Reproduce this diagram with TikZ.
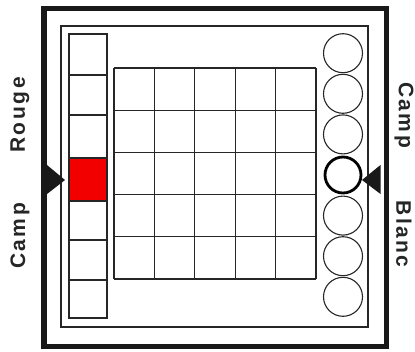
\documentclass[tikz,border=0pt]{standalone}
\usepackage{fontspec}
\setmainfont{Liberation Sans}
\newfontfamily\labfont{Liberation Sans}[LetterSpace=12]
\begin{document}
\begin{tikzpicture}[x=1pt,y=-1pt,
  frame/.style={draw=black!90,line width=5.5pt},
  thinline/.style={draw=black!85,line width=1.2pt},
  pegcircle/.style={draw=black!85,line width=1.1pt},
  pegthick/.style={draw=black,line width=2.8pt},
  marker/.style={fill=black!90},
  camplabel/.style={font=\labfont\bfseries\fontsize{21}{21}\selectfont,text=black!85,inner sep=0pt}]
\useasboundingbox (0,0) rectangle (415,351);
\fill[white] (0,0) rectangle (415,351);
% frames
\draw[frame] (44,8.5) rectangle (386.5,346.5);
\draw[thinline] (61,26) rectangle (368,327);
% left column
\fill[red!95!black] (69,158) rectangle (107,201);
\draw[thinline] (69,34) rectangle (107,318);
\foreach \yy in {75,115,158,201,240,280} \draw[thinline] (69,\yy) -- (107,\yy);
% grid
\foreach \xx in {114,154.4,194.8,235.2,275.6,316} \draw[thinline] (\xx,68) -- (\xx,279);
\foreach \yy in {68,110.2,152.4,194.6,236.8,279} \draw[thinline] (114,\yy) -- (316,\yy);
% circles
\foreach \i in {0,1,2,4,5,6} \draw[pegcircle] (343,53.2+40.6*\i) circle (19.5pt);
\draw[pegthick] (343,175) circle (18pt);
% markers
\fill[marker] (47,165) -- (65,180) -- (47,194) -- cycle;
\fill[marker] (380.5,165) -- (362,180) -- (380.5,194) -- cycle;
% labels
\node[camplabel,rotate=90] (campr) at (20,236) {Camp};
\node[camplabel,rotate=90] (rouge) at (20,115) {Rouge};
\node[camplabel,rotate=-90] (campb) at (404,115) {Camp};
\node[camplabel,rotate=-90] (blanc) at (404,234) {Blanc};
\end{tikzpicture}
\end{document}
